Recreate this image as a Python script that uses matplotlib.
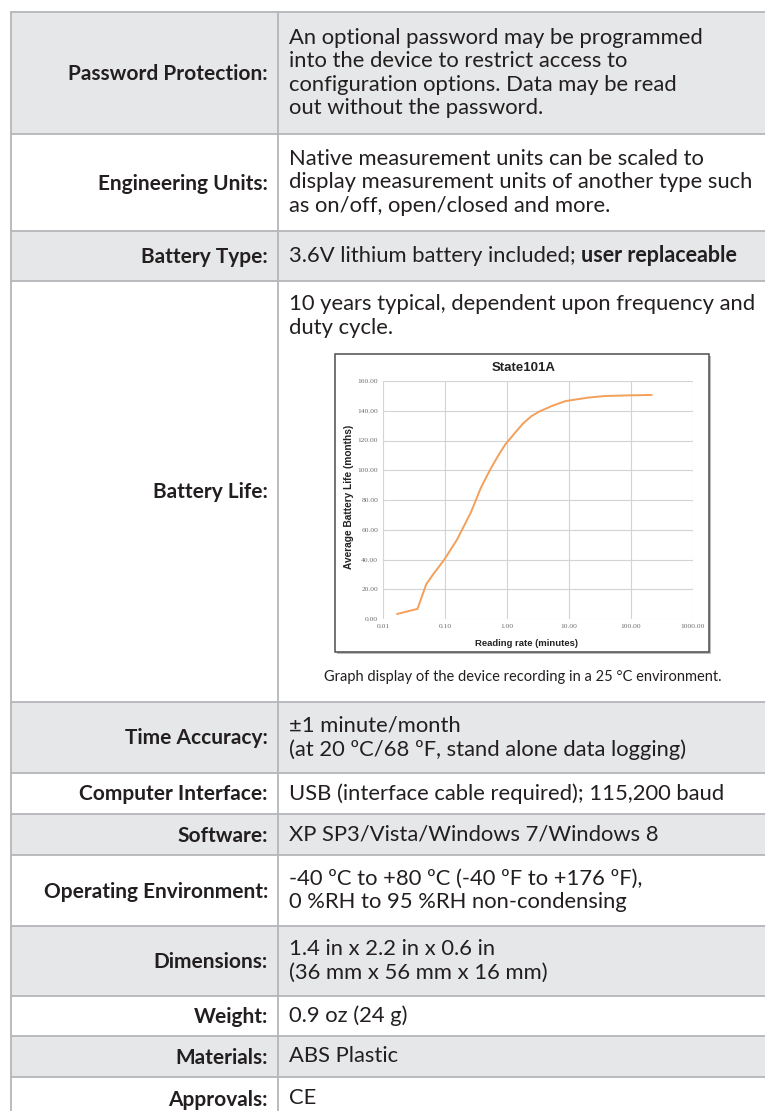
import numpy as np
import matplotlib
matplotlib.use("Agg")
import matplotlib.pyplot as plt
from matplotlib.patches import Rectangle

plt.rcParams['font.family'] = ['Lato', 'DejaVu Sans']

# table content
labels = ["Password Protection:", "Engineering Units:", "Battery Type:", "Battery Life:",
          "Time Accuracy:", "Computer Interface:", "Software:", "Operating Environment:",
          "Dimensions:", "Weight:", "Materials:", "Approvals:"]
values = [
    ["An optional password may be programmed", "into the device to restrict access to",
     "configuration options. Data may be read", "out without the password."],
    ["Native measurement units can be scaled to",
     "display measurement units of another type such", "as on/off, open/closed and more."],
    ["3.6V lithium battery included;"],
    ["10 years typical, dependent upon frequency and", "duty cycle."],
    ["\u00b11 minute/month", "(at 20 \u00baC/68 \u00baF, stand alone data logging)"],
    ["USB (interface cable required); 115,200 baud"],
    ["XP SP3/Vista/Windows 7/Windows 8"],
    ["-40 \u00baC to +80 \u00baC (-40 \u00baF to +176 \u00baF),", "0 %RH to 95 %RH non-condensing"],
    ["1.4 in x 2.2 in x 0.6 in", "(36 mm x 56 mm x 16 mm)"],
    ["0.9 oz (24 g)"],
    ["ABS Plastic"],
    ["CE"],
]
bold_tail = "user replaceable"
caption = "Graph display of the device recording in a 25 \u00b0C environment."

# battery life chart
rate_min = [0.017, 0.036, 0.050, 0.067, 0.097, 0.156, 0.261, 0.377, 0.544, 0.75, 0.944,
            1.4, 1.82, 2.5, 3.4, 5.5, 8.8, 20, 38, 100, 214]
life_months = [3.4, 6.8, 23.5, 31, 39.8, 53.3, 71.6, 88, 101, 111, 117.5,
               126, 131.5, 136.5, 139.7, 143.5, 146.5, 148.8, 149.9, 150.4, 150.6]
xticks = [0.01, 0.1, 1, 10, 100, 1000]
xticklabels = ["0.01", "0.10", "1.00", "10.00", "100.00", "1000.00"]
yticks = [0, 20, 40, 60, 80, 100, 120, 140, 160]
yticklabels = ["%.2f" % v for v in yticks]

# layout in pixels
W, H = 765, 1111
row_edges = [12, 134, 231, 281, 702, 773, 814, 855, 926, 996, 1036, 1077, 1120]
x_left, x_div, x_right = 11, 278, 766
line_h = 23.5
grey = '#e6e7e8'
border = '#b4b6b9'
ink = '#231f20'
fs_lab = 15
fs_val = 15.8

fig = plt.figure(figsize=(W / 100, H / 100), dpi=100)
ax = fig.add_axes([0, 0, 1, 1])
ax.set_xlim(0, W)
ax.set_ylim(H, 0)
ax.axis('off')

for i, (lab, lines) in enumerate(zip(labels, values)):
    top, bot = row_edges[i], row_edges[i + 1]
    ax.add_patch(Rectangle((x_left, top), x_right - x_left, bot - top,
                           facecolor=grey if i % 2 == 0 else 'white', edgecolor='none', zorder=0))
    ax.plot([x_left, x_right], [top, top], color=border, lw=1.3, zorder=1)
    mid = (top + bot) / 2
    ax.text(268, mid + 1, lab, ha='right', va='center', fontsize=fs_lab, fontweight='bold', color=ink)
    if lab == "Battery Life:":
        y0 = top + 23
    else:
        y0 = mid - (len(lines) - 1) * line_h / 2
    for k, ln in enumerate(lines):
        t = ax.text(289, y0 + k * line_h, ln, ha='left', va='center', fontsize=fs_val, color=ink)
        if lab == "Battery Type:":
            ax.annotate(bold_tail, xy=(1, 0.5), xycoords=t, xytext=(4, 0), textcoords='offset points',
                        ha='left', va='center', fontsize=fs_val - 0.3, fontweight='bold', color=ink)

ax.plot([x_left, x_left], [row_edges[0], row_edges[-1]], color=border, lw=1.3, zorder=1)
ax.plot([x_div, x_div], [row_edges[0], row_edges[-1]], color=border, lw=1.3, zorder=1)

# chart frame + caption
ax.add_patch(Rectangle((337, 356), 374, 298, facecolor='#bdbdbd', edgecolor='none', zorder=2))
ax.add_patch(Rectangle((335, 354), 374, 298, facecolor='white', edgecolor='#4d4d4d', lw=1.1, zorder=2))
ax.text(524, 368, "State101A", ha='center', va='center', fontsize=9.5, fontweight='bold',
        family=['Liberation Sans', 'DejaVu Sans'], color='#222222', zorder=3)
ax.text(349, 497, "Average Battery Life (months)", ha='center', va='center', rotation=90,
        fontsize=7.3, fontweight='bold', family=['Liberation Sans', 'DejaVu Sans'], color='#222222', zorder=3)
ax.text(527, 643, "Reading rate (minutes)", ha='center', va='center', fontsize=6.8, fontweight='bold',
        family=['Liberation Sans', 'DejaVu Sans'], color='#222222', zorder=3)
ax.text(523, 677, caption, ha='center', va='center', fontsize=10.5, color=ink)

# inner plot area
px_l, px_r, px_t, px_b = 383, 693, 381, 619
cax = fig.add_axes([px_l / W, (H - px_b) / H, (px_r - px_l) / W, (px_b - px_t) / H])
cax.set_facecolor('none')
cax.plot(rate_min, life_months, color='#f49f5a', lw=1.4, zorder=3, solid_joinstyle='round')
cax.set_xscale('log')
cax.set_xlim(0.01, 1000)
cax.set_ylim(0, 160)
cax.set_xticks(xticks)
cax.set_xticklabels(xticklabels)
cax.set_yticks(yticks)
cax.set_yticklabels(yticklabels)
cax.minorticks_off()
cax.grid(True, color='#d3d3d3', lw=0.8)
for s in cax.spines.values():
    s.set_visible(False)
cax.tick_params(length=0, labelsize=5.4, labelcolor='#6e6e6e', pad=3.5)
for t in cax.get_xticklabels() + cax.get_yticklabels():
    t.set_family(['Liberation Serif', 'DejaVu Serif'])

fig.savefig("out.png", dpi=100)
